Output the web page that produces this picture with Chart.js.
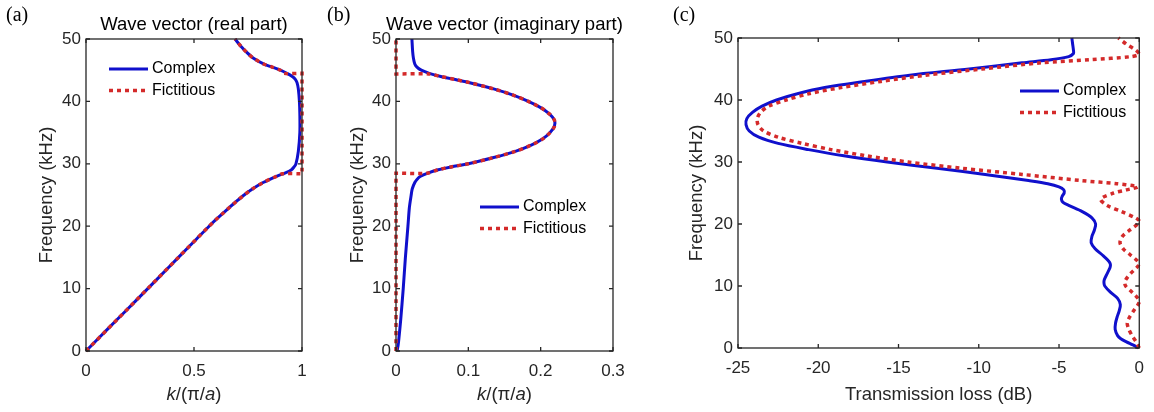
<!DOCTYPE html>
<html>
<head>
<meta charset="utf-8">
<script src="https://cdn.jsdelivr.net/npm/chart.js@4.4.1/dist/chart.umd.min.js"></script>
<style>
  html, body { margin: 0; padding: 0; background: #fff; }
  #wrap { position: relative; width: 1154px; height: 412px; overflow: hidden; }
  #wrap canvas { position: absolute; top: 0; }
</style>
</head>
<body>
<div id="wrap">
  <canvas id="chartReal" width="320" height="412" style="left:0px"></canvas>
  <canvas id="chartImag" width="340" height="412" style="left:320px"></canvas>
  <canvas id="chartLoss" width="494" height="412" style="left:660px"></canvas>
</div>
<script>
// Series names shared by all three panels
const seriesNames = ["Complex", "Fictitious"];

// Tick values
const freqTicks = [0, 10, 20, 30, 40, 50];
const realKTicks = [0, 0.5, 1];
const imagKTicks = [0, 0.1, 0.2, 0.3];
const lossTicks = [-25, -20, -15, -10, -5, 0];

// (a) real part of the wave vector, k/(pi/a) against frequency (kHz)
const realFreqComplex = [0, 2, 5, 8, 10, 12, 15, 18, 20, 21, 22, 23, 24, 25, 26, 27, 28, 28.5, 29, 29.5, 30, 32, 35, 38, 40, 42, 43, 43.5, 44, 44.5, 45, 45.5, 46, 47, 48, 49, 50];
const realKComplex = [0, 0.057, 0.143, 0.229, 0.286, 0.343, 0.428, 0.513, 0.57, 0.6, 0.632, 0.664, 0.697, 0.732, 0.772, 0.82, 0.882, 0.92, 0.95, 0.963, 0.972, 0.983, 0.99, 0.99, 0.988, 0.983, 0.977, 0.97, 0.955, 0.93, 0.9, 0.862, 0.822, 0.772, 0.74, 0.713, 0.69];
const realFreqFict = [0, 5, 10, 15, 20, 21, 22, 23, 24, 25, 26, 27, 28, 28.4, 28.4, 28.4, 44.5, 44.5, 44.5, 45, 45.5, 46, 47, 48, 49, 50];
const realKFict = [0, 0.143, 0.286, 0.428, 0.57, 0.6, 0.632, 0.664, 0.697, 0.732, 0.772, 0.82, 0.882, 0.91, 1.0, 1.0, 1.0, 1.0, 0.915, 0.9, 0.862, 0.822, 0.772, 0.74, 0.713, 0.69];

// (b) imaginary part of the wave vector
const imagFreqComplex = [0, 1, 2, 5, 10, 15, 20, 23, 25, 26, 27, 27.5, 28, 28.5, 29, 29.5, 30, 31, 32, 33, 34, 35, 36, 37, 38, 39, 40, 41, 42, 43, 43.5, 44, 44.5, 45, 45.5, 46, 47, 48, 50];
const imagKComplex = [0.0015, 0.003, 0.004, 0.0065, 0.01, 0.013, 0.0165, 0.0185, 0.021, 0.0225, 0.026, 0.029, 0.034, 0.044, 0.057, 0.076, 0.1, 0.135, 0.165, 0.187, 0.203, 0.213, 0.219, 0.219, 0.212, 0.2, 0.183, 0.162, 0.135, 0.102, 0.082, 0.062, 0.046, 0.035, 0.029, 0.026, 0.024, 0.023, 0.022];
const imagFreqFict = [0, 28.5, 28.5, 28.5, 29, 29.5, 30, 31, 32, 33, 34, 35, 36, 37, 38, 39, 40, 41, 42, 43, 43.5, 44, 44.4, 44.4, 44.4, 50];
const imagKFict = [0, 0, 0, 0.043, 0.057, 0.076, 0.1, 0.135, 0.165, 0.187, 0.203, 0.213, 0.219, 0.219, 0.212, 0.2, 0.183, 0.162, 0.135, 0.102, 0.082, 0.062, 0.045, 0, 0, 0];

// (c) transmission loss (dB)
const lossFreqComplex = [0, 0.5, 1, 1.5, 2, 3, 4, 5, 6, 7, 8, 9, 10, 10.5, 11, 12, 13, 13.5, 14, 15, 16, 17, 18, 19, 20, 21, 22, 23, 23.5, 24, 24.5, 25, 25.5, 26, 26.5, 27, 28, 29, 30, 31, 32, 33, 34, 35, 36, 37, 38, 39, 40, 41, 42, 43, 44, 45, 46, 46.5, 47, 47.5, 48, 49, 50];
const lossComplex = [-0.05, -0.4, -0.8, -1.15, -1.35, -1.5, -1.48, -1.38, -1.25, -1.18, -1.35, -1.8, -2.15, -2.2, -2.18, -2.0, -1.82, -1.8, -1.9, -2.3, -2.75, -3.0, -2.95, -2.8, -2.72, -2.95, -3.55, -4.4, -4.75, -4.85, -4.8, -4.68, -4.7, -5.0, -5.7, -6.9, -9.6, -12.6, -15.7, -18.4, -20.6, -22.5, -23.7, -24.3, -24.5, -24.45, -24.1, -23.5, -22.6, -21.3, -19.6, -17.1, -14.3, -10.6, -7.3, -5.5, -4.4, -4.1, -4.1, -4.15, -4.2];
const lossFreqFict = [0, 1, 2, 3, 4, 5, 6, 7, 7.5, 8, 9, 10, 10.5, 11, 12, 13, 13.5, 14, 15, 16, 17, 18, 19, 20, 20.5, 21, 22, 23, 24, 25, 25.5, 26, 26.5, 27, 28, 29, 30, 31, 32, 33, 34, 35, 36, 37, 38, 39, 40, 41, 42, 43, 44, 45, 46, 46.5, 47, 47.4, 48, 49, 50];
const lossFict = [0, -0.2, -0.45, -0.65, -0.75, -0.6, -0.35, -0.08, 0, -0.08, -0.45, -0.85, -0.9, -0.85, -0.55, -0.15, -0.02, -0.1, -0.55, -1.0, -1.2, -1.05, -0.6, -0.1, 0, -0.25, -1.1, -2.0, -2.4, -1.6, -0.8, -0.1, -1.4, -3.6, -7.3, -11.1, -14.4, -17.0, -19.2, -21.0, -22.5, -23.4, -23.75, -23.8, -23.6, -23.1, -22.0, -20.6, -18.6, -16.1, -13.3, -9.8, -6.1, -3.0, -0.5, 0, -0.2, -0.8, -1.3];

const FONT = "'Liberation Sans', Arial, sans-serif";
const AXIS_COLOR = "#262626";
const BLUE = "#1010cc";
const RED = "#d42a2a";

function toPoints(xs, ys) {
    return xs.map((x, i) => ({ x: x, y: ys[i] }));
}

// Box, inward ticks, titles, axis labels and the in-axes legend
const panelDecor = {
    id: "panelDecor",
    afterDraw(chart, args, opts) {
        const ctx = chart.ctx;
        const a = chart.chartArea;
        const xs = chart.scales.x;
        const ys = chart.scales.y;
        ctx.save();

        ctx.strokeStyle = AXIS_COLOR;
        ctx.lineWidth = 1.3;
        ctx.strokeRect(a.left, a.top, a.right - a.left, a.bottom - a.top);
        ctx.beginPath();
        xs.ticks.forEach((t) => {
            const px = xs.getPixelForValue(t.value);
            ctx.moveTo(px, a.bottom); ctx.lineTo(px, a.bottom - 4);
            ctx.moveTo(px, a.top); ctx.lineTo(px, a.top + 4);
        });
        ys.ticks.forEach((t) => {
            const py = ys.getPixelForValue(t.value);
            ctx.moveTo(a.left, py); ctx.lineTo(a.left + 4, py);
            ctx.moveTo(a.right, py); ctx.lineTo(a.right - 4, py);
        });
        ctx.stroke();

        const cx = (a.left + a.right) / 2;

        // panel title
        if (opts.title) {
            ctx.fillStyle = "#000";
            ctx.font = "18.5px " + FONT;
            ctx.textAlign = "center";
            ctx.textBaseline = "middle";
            ctx.fillText(opts.title, cx, 25);
        }

        // panel letter
        ctx.fillStyle = "#000";
        ctx.font = "20px 'Liberation Serif', 'Times New Roman', serif";
        ctx.textAlign = "left";
        ctx.textBaseline = "middle";
        ctx.fillText(opts.letter, opts.letterX, 16);

        // x axis label, italic where needed
        ctx.fillStyle = AXIS_COLOR;
        ctx.textBaseline = "middle";
        const parts = opts.xLabel;
        let total = 0;
        parts.forEach((p) => {
            ctx.font = (p.italic ? "italic " : "") + "18.5px " + FONT;
            total += ctx.measureText(p.text).width;
        });
        let x0 = cx - total / 2;
        ctx.textAlign = "left";
        parts.forEach((p) => {
            ctx.font = (p.italic ? "italic " : "") + "18.5px " + FONT;
            ctx.fillText(p.text, x0, 395);
            x0 += ctx.measureText(p.text).width;
        });

        // y axis label
        ctx.save();
        ctx.translate(opts.yLabelX, (a.top + a.bottom) / 2);
        ctx.rotate(-Math.PI / 2);
        ctx.font = "18.5px " + FONT;
        ctx.textAlign = "center";
        ctx.fillText("Frequency (kHz)", 0, 0);
        ctx.restore();

        // legend
        const lg = opts.legend;
        chart.data.datasets.forEach((ds, i) => {
            const ly = a.top + lg.y + i * 21.5;
            const lx = a.left + lg.x;
            ctx.beginPath();
            ctx.strokeStyle = ds.borderColor;
            ctx.lineWidth = ds.borderWidth;
            ctx.setLineDash(ds.borderDash || []);
            ctx.moveTo(lx, ly);
            ctx.lineTo(lx + 39, ly);
            ctx.stroke();
            ctx.setLineDash([]);
            ctx.fillStyle = "#000";
            ctx.font = "16px " + FONT;
            ctx.textAlign = "left";
            ctx.textBaseline = "middle";
            ctx.fillText(ds.label, lx + 43, ly);
        });

        ctx.restore();
    }
};

function makePanel(canvasId, cfg) {
    const ctx = document.getElementById(canvasId).getContext("2d");
    const tickFont = { family: FONT, size: 17 };
    return new Chart(ctx, {
        type: "scatter",
        data: {
            datasets: [
                {
                    label: seriesNames[0],
                    data: toPoints(cfg.complexX, cfg.complexY),
                    showLine: true,
                    borderColor: BLUE,
                    borderWidth: 3,
                    pointRadius: 0,
                    tension: 0.3,
                    clip: 3,
                    order: 2
                },
                {
                    label: seriesNames[1],
                    data: toPoints(cfg.fictX, cfg.fictY),
                    showLine: true,
                    borderColor: RED,
                    borderWidth: 3.5,
                    borderDash: [4, 4],
                    pointRadius: 0,
                    tension: 0.3,
                    clip: 3,
                    order: 1
                }
            ]
        },
        options: {
            responsive: false,
            animation: false,
            events: [],
            devicePixelRatio: 1,
            layout: { padding: { left: 0, right: cfg.padRight, top: cfg.top, bottom: 0 } },
            scales: {
                x: {
                    type: "linear",
                    min: cfg.xMin,
                    max: cfg.xMax,
                    grid: { display: false, drawTicks: false },
                    border: { display: false },
                    afterBuildTicks: (s) => { s.ticks = cfg.xTicks.map((v) => ({ value: v })); },
                    afterFit: (s) => { s.height = cfg.xAxisHeight; },
                    ticks: {
                        padding: 10,
                        color: AXIS_COLOR,
                        font: tickFont,
                        maxRotation: 0,
                        autoSkip: false,
                        callback: (v) => String(v)
                    }
                },
                y: {
                    type: "linear",
                    min: 0,
                    max: 50,
                    grid: { display: false, drawTicks: false },
                    border: { display: false },
                    afterBuildTicks: (s) => { s.ticks = freqTicks.map((v) => ({ value: v })); },
                    afterFit: (s) => { s.width = cfg.yAxisWidth; },
                    ticks: {
                        padding: 5,
                        color: AXIS_COLOR,
                        font: tickFont,
                        autoSkip: false,
                        callback: (v) => String(v)
                    }
                }
            },
            plugins: {
                legend: { display: false },
                tooltip: { enabled: false },
                panelDecor: {
                    title: cfg.title,
                    letter: cfg.letter,
                    letterX: cfg.letterX,
                    xLabel: cfg.xLabel,
                    yLabelX: cfg.yLabelX,
                    legend: cfg.legend
                }
            }
        },
        plugins: [panelDecor]
    });
}

const kLabel = [
    { text: "k", italic: true },
    { text: "/(\u03c0/", italic: false },
    { text: "a", italic: true },
    { text: ")", italic: false }
];

makePanel("chartReal", {
    complexX: realKComplex, complexY: realFreqComplex,
    fictX: realKFict, fictY: realFreqFict,
    xMin: 0, xMax: 1, xTicks: realKTicks,
    yAxisWidth: 86, xAxisHeight: 61, padRight: 18, top: 39,
    title: "Wave vector (real part)",
    letter: "(a)", letterX: 6,
    xLabel: kLabel, yLabelX: 47,
    legend: { x: 23, y: 30 }
});

makePanel("chartImag", {
    complexX: imagKComplex, complexY: imagFreqComplex,
    fictX: imagKFict, fictY: imagFreqFict,
    xMin: 0, xMax: 0.3, xTicks: imagKTicks,
    yAxisWidth: 76, xAxisHeight: 61, padRight: 47, top: 39,
    title: "Wave vector (imaginary part)",
    letter: "(b)", letterX: 7,
    xLabel: kLabel, yLabelX: 38,
    legend: { x: 84, y: 168 }
});

makePanel("chartLoss", {
    complexX: lossComplex, complexY: lossFreqComplex,
    fictX: lossFict, fictY: lossFreqFict,
    xMin: -25, xMax: 0, xTicks: lossTicks,
    yAxisWidth: 78, xAxisHeight: 64, padRight: 8, top: 38,
    title: "",
    letter: "(c)", letterX: 13,
    xLabel: [{ text: "Transmission loss (dB)", italic: false }], yLabelX: 37,
    legend: { x: 282, y: 53 }
});
</script>
</body>
</html>
